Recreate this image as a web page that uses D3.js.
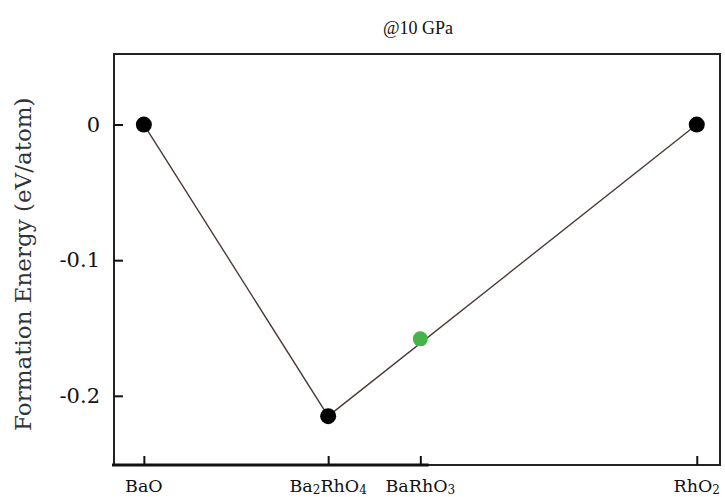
<!DOCTYPE html>
<html>
<head>
<meta charset="utf-8">
<script src="https://cdn.jsdelivr.net/npm/d3@7"></script>
<style>
  body { margin: 0; background: #fff; }
  text { font-family: "DejaVu Serif", "Liberation Serif", serif; fill: #111; }
</style>
</head>
<body>
<div id="chart"></div>
<script>
// compounds along the BaO - RhO2 line (fraction of RhO2)
const compounds = ["BaO", "Ba2RhO4", "BaRhO3", "RhO2"];
const fractions = [0, 1 / 3, 1 / 2, 1];
const energies = [0, -0.215, -0.158, 0];
const onHull = [true, true, false, true];
const yTicks = [0, -0.1, -0.2];
const yTickLabels = ["0", "-0.1", "-0.2"];
const xTickLabels = [
  [["BaO", ""]],
  [["Ba", ""], ["2", "sub"], ["RhO", ""], ["4", "sub"]],
  [["BaRhO", ""], ["3", "sub"]],
  [["RhO", ""], ["2", "sub"]]
];

const W = 725, H = 497;
const margin = {top: 54, right: 5, bottom: 32, left: 114};
const width = W - margin.left - margin.right,
      height = H - margin.top - margin.bottom;

const svg = d3.select("#chart").append("svg")
  .attr("width", W).attr("height", H);
const g = svg.append("g").attr("transform", `translate(${margin.left},${margin.top})`);

const x = d3.scaleLinear().domain([-0.054, 1.042]).range([0, width]);
const y = d3.scaleLinear().domain([-0.251, 0.052]).range([height, 0]);

// frame
g.append("rect")
  .attr("width", width).attr("height", height)
  .attr("fill", "none").attr("stroke", "#222").attr("stroke-width", 2);
// slightly heavier bottom segment on the left
g.append("line")
  .attr("x1", -2).attr("x2", x(0.515)).attr("y1", height).attr("y2", height)
  .attr("stroke", "#111").attr("stroke-width", 3);

// y axis (ticks pointing inward)
const yAxis = g.append("g")
  .call(d3.axisRight(y).tickValues(yTicks).tickSize(9).tickFormat((d, i) => yTickLabels[i]));
yAxis.select(".domain").remove();
yAxis.selectAll(".tick line").attr("stroke", "#111").attr("stroke-width", 2);
yAxis.selectAll(".tick text")
  .attr("x", -14).attr("text-anchor", "end")
  .style("font-size", "21px").style("font-family", "DejaVu Serif, serif").attr("fill", "#222");

// x axis (ticks pointing inward)
const xAxis = g.append("g").attr("transform", `translate(0,${height})`)
  .call(d3.axisTop(x).tickValues(fractions).tickSize(9).tickFormat(""));
xAxis.select(".domain").remove();
xAxis.selectAll(".tick line").attr("stroke", "#111").attr("stroke-width", 2);

// x tick labels with subscripts
fractions.forEach((f, i) => {
  const t = g.append("text")
    .attr("x", x(f)).attr("y", height + 27)
    .attr("text-anchor", "middle")
    .style("font-size", "17.5px");
  let shifted = false;
  xTickLabels[i].forEach(([s, kind]) => {
    const span = t.append("tspan").text(s);
    if (kind === "sub") { span.style("font-size", "12px").attr("dy", 2); shifted = true; }
    else if (shifted) { span.attr("dy", -2); shifted = false; }
  });
});

// convex hull line
const hull = fractions.map((f, i) => [f, energies[i]]).filter((d, i) => onHull[i]);
g.append("path")
  .datum(hull)
  .attr("fill", "none").attr("stroke", "#4a3b36").attr("stroke-width", 1.4)
  .attr("d", d3.line().x(d => x(d[0])).y(d => y(d[1])));

// points
g.selectAll("circle")
  .data(fractions.map((f, i) => ({f, e: energies[i], hull: onHull[i]})))
  .join("circle")
  .attr("cx", d => x(d.f)).attr("cy", d => y(d.e))
  .attr("r", d => d.hull ? 8 : 7.5)
  .attr("fill", d => d.hull ? "#000" : "#45b549");

// title
svg.append("text")
  .attr("x", 418).attr("y", 34).attr("text-anchor", "middle")
  .style("font-size", "18px").style("font-family", "Liberation Serif, serif")
  .text("@10 GPa");

// y axis title
svg.append("text")
  .attr("transform", `translate(31,${margin.top + y(-0.1) + 4}) rotate(-90)`)
  .attr("text-anchor", "middle")
  .style("font-size", "23px")
  .style("fill", "#333")
  .text("Formation Energy (eV/atom)");
</script>
</body>
</html>
